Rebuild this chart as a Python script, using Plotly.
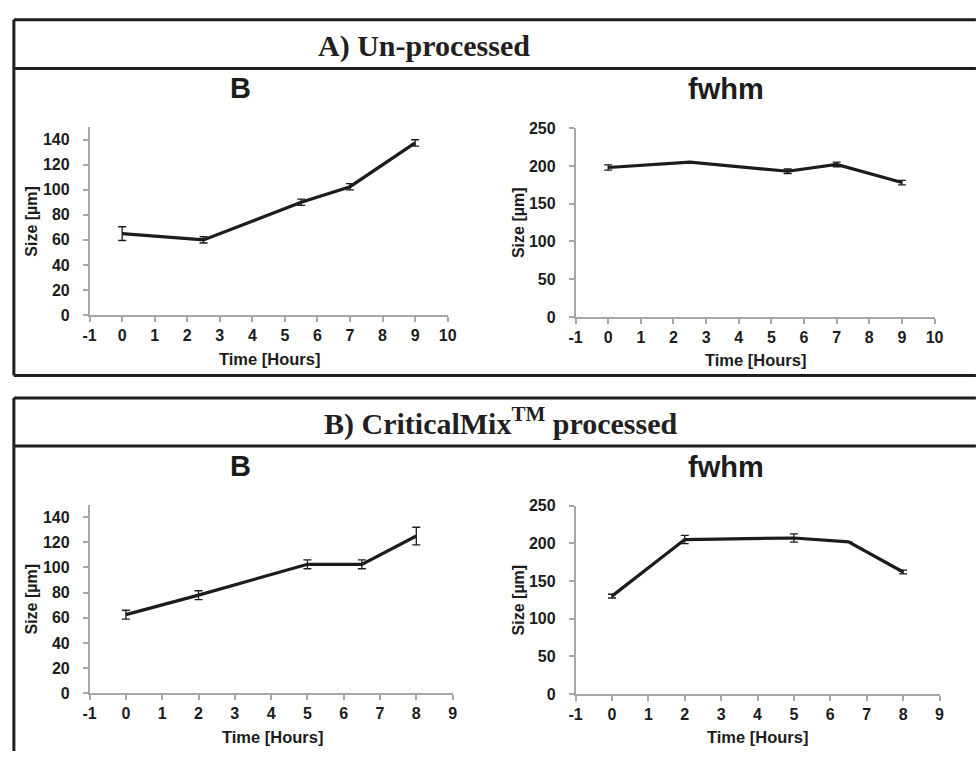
import plotly.graph_objects as go

W, H = 979, 757

# ---- data: time points (hours), mean size (µm) and error (µm) ----
time_raw = [0, 2.5, 5.5, 7, 9]
b_raw = [65, 60, 90, 102.5, 137.5]
b_raw_err = [5.5, 2.5, 2.5, 2.5, 2.5]
fwhm_raw = [198, 205, 193, 202, 178]
fwhm_raw_err = [3.5, 0, 3, 3, 3]

time_mix = [0, 2, 5, 6.5, 8]
b_mix = [62.5, 78, 102.5, 102.5, 125]
b_mix_err = [3.5, 3.5, 3.5, 3.5, 7]
fwhm_mix = [130, 205, 207, 202, 162]
fwhm_mix_err = [2.5, 5.5, 5.5, 0, 2.5]

hour_ticks_raw = list(range(-1, 11))
hour_ticks_mix = list(range(-1, 10))

header_top = "A) Un-processed"
header_bottom = "B) CriticalMix<sup>TM</sup> processed"
axis_x_title = "Time [Hours]"
axis_y_title = "Size [µm]"

INK = "#1c1c1c"
AXIS_GREY = "#a6a6a6"
SANS = "Arial, Liberation Sans, sans-serif"
SERIF = "Times New Roman, Liberation Serif, serif"


def fx(px):
    return px / W


def fy(py):
    return 1 - py / H


fig = go.Figure()

# (axis suffix, x, y, err, x ticks, x-domain px, y-domain px, y-range, dtick, title, title pos, axis-title pos)
panels = [
    ("", time_raw, b_raw, b_raw_err, hour_ticks_raw, (84, 448), (122, 314), [0, 150], 20, "B", (237, 82), (25, 267, 359)),
    ("2", time_raw, fwhm_raw, fwhm_raw_err, hour_ticks_raw, (578, 943), (123, 316), [0, 250], 50, "fwhm", (731, 83), (520, 761, 360)),
    ("3", time_mix, b_mix, b_mix_err, hour_ticks_mix, (84, 453), (508, 701), [0, 150], 20, "B", (237, 469), (25, 270, 746)),
    ("4", time_mix, fwhm_mix, fwhm_mix_err, hour_ticks_mix, (578, 948), (509, 702), [0, 250], 50, "fwhm", (731, 470), (520, 763, 746)),
]

annotations = []
for suf, xs, ys, errs, xt, xd, yd, yr, dt, title, tpos, apos in panels:
    fig.add_trace(go.Scatter(
        x=xs, y=ys, mode="lines",
        line=dict(color=INK, width=3.2),
        error_y=dict(type="data", array=errs, visible=True, color=INK, thickness=1.3, width=4),
        xaxis="x" + suf, yaxis="y" + suf, showlegend=False, hoverinfo="x+y",
    ))
    common = dict(
        showgrid=False, zeroline=False, showline=True, linecolor=AXIS_GREY, linewidth=1.5,
        ticks="outside", tickcolor=AXIS_GREY, ticklen=5, tickwidth=1.5,
        tickfont=dict(family=SANS, size=16, color=INK, weight="bold"),
    )
    fig.update_layout(**{
        "xaxis" + suf: dict(domain=[fx(xd[0]), fx(xd[1])], range=[xt[0], xt[-1]],
                            tickmode="array", tickvals=xt, ticktext=[str(v) for v in xt],
                            anchor="y" + suf, **common),
        "yaxis" + suf: dict(domain=[fy(yd[1]), fy(yd[0])], range=yr, dtick=dt,
                            ticklabelstandoff=10, anchor="x" + suf, **common),
    })
    annotations.append(dict(text=title, x=fx(tpos[0]), y=fy(tpos[1]), xref="paper", yref="paper",
                            showarrow=False, xanchor="center", yanchor="middle",
                            font=dict(family=SANS, size=29, color=INK, weight="bold")))
    annotations.append(dict(text=axis_y_title, x=fx(apos[0]), y=fy((yd[0] + yd[1]) / 2),
                            xref="paper", yref="paper", showarrow=False, textangle=-90,
                            xanchor="center", yanchor="middle",
                            font=dict(family=SANS, size=16, color=INK, weight="bold")))
    annotations.append(dict(text=axis_x_title, x=fx(apos[1]), y=fy(apos[2]),
                            xref="paper", yref="paper", showarrow=False,
                            xanchor="center", yanchor="middle",
                            font=dict(family=SANS, size=16.5, color=INK, weight="bold")))

# section headers
annotations.append(dict(text=header_top, x=fx(424), y=fy(39), xref="paper", yref="paper",
                        showarrow=False, xanchor="center", yanchor="middle",
                        font=dict(family=SERIF, size=30, color="#231f20", weight="bold")))
annotations.append(dict(text=header_bottom, x=fx(502), y=fy(423), xref="paper", yref="paper",
                        showarrow=False, xanchor="center", yanchor="middle",
                        font=dict(family=SERIF, size=30, color="#231f20", weight="bold")))

# frame lines around the two sections
BORDER = dict(color="#1e1e1e", width=3)
shapes = []
for x0, y0, x1, y1 in [
    (7, 12, 985, 12), (7, 62, 985, 62), (7, 376, 985, 376), (7, 12, 7, 376),
    (7, 399, 985, 399), (7, 448, 985, 448), (7, 399, 7, 760),
]:
    shapes.append(dict(type="line", xref="paper", yref="paper",
                       x0=fx(x0), y0=fy(y0), x1=fx(x1), y1=fy(y1), line=BORDER))

fig.update_layout(
    width=W, height=H, margin=dict(l=0, r=0, t=0, b=0),
    paper_bgcolor="white", plot_bgcolor="white",
    annotations=annotations, shapes=shapes, showlegend=False,
)

fig.write_html("out.html")
